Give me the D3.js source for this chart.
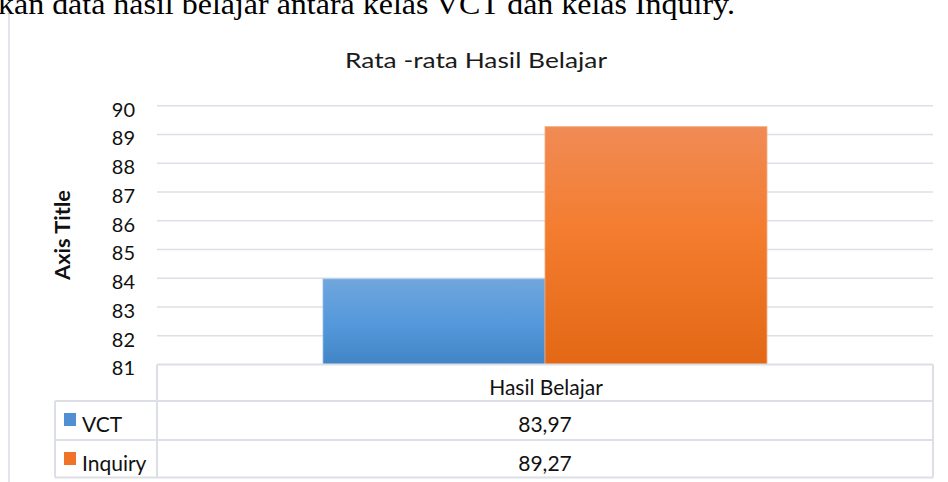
<!DOCTYPE html>
<html>
<head>
<meta charset="utf-8">
<script src="https://cdn.jsdelivr.net/npm/d3@7"></script>
<style>
  html, body { margin: 0; padding: 0; background: #fff; }
  svg { display: block; }
</style>
</head>
<body>
<svg id="chart" width="948" height="482"></svg>
<script>
// ---- data ----
const categories = ["Hasil Belajar"];
const seriesNames = ["VCT", "Inquiry"];
const vctValues = [83.97];
const inquiryValues = [89.27];
const valueLabels = [["83,97"], ["89,27"]];
const yTicks = [81, 82, 83, 84, 85, 86, 87, 88, 89, 90];
const chartTitle = "Rata -rata Hasil Belajar";
const axisTitle = "Axis Title";
const docText = "kan data hasil belajar antara kelas VCT dan kelas Inquiry.";

const seriesValues = [vctValues, inquiryValues];

const svg = d3.select("#chart");
const font = "Lato, 'Open Sans', sans-serif";
const gridColor = "#dcdfe5";

// gradients
const defs = svg.append("defs");
const grads = [
  { id: "gBlue", stops: [["0%", "#70a6dc"], ["50%", "#5699dc"], ["100%", "#4185c6"]] },
  { id: "gOrange", stops: [["0%", "#f08b55"], ["45%", "#f47c2e"], ["100%", "#e26815"]] }
];
grads.forEach(g => {
  const lg = defs.append("linearGradient").attr("id", g.id)
    .attr("x1", 0).attr("y1", 0).attr("x2", 0).attr("y2", 1);
  g.stops.forEach(s => lg.append("stop").attr("offset", s[0]).attr("stop-color", s[1]));
});
const legendColors = ["#4f8fd2", "#ef7428"];

// document text at top (cut off by the page edge, as in the source)
svg.append("text")
  .attr("x", -2).attr("y", 13.5)
  .attr("font-family", "'Liberation Serif', 'Times New Roman', serif")
  .attr("font-size", 29)
  .attr("textLength", 737)
  .attr("lengthAdjust", "spacingAndGlyphs")
  .attr("fill", "#000")
  .text(docText);

// left frame line
svg.append("line")
  .attr("x1", 9).attr("x2", 9).attr("y1", 13).attr("y2", 482)
  .attr("stroke", "#d9dde4").attr("stroke-width", 1.5);

// scales
const plotLeft = 157, plotRight = 933;
const y = d3.scaleLinear().domain([81, 90]).range([364.4, 105.7]);
const x0 = d3.scaleBand().domain(categories).range([plotLeft, plotRight]).padding(0);
const x1 = d3.scaleBand().domain(seriesNames).range([0, x0.bandwidth()])
  .paddingInner(0).paddingOuter(0.748);

// title
svg.append("text")
  .attr("x", 345).attr("y", 68.3)
  .attr("font-family", font).attr("font-size", 21)
  .attr("textLength", 262)
  .attr("lengthAdjust", "spacingAndGlyphs")
  .attr("fill", "#1a1a1a")
  .text(chartTitle);

// gridlines
svg.append("g").selectAll("line")
  .data(yTicks.filter(t => t > 81))
  .join("line")
  .attr("x1", plotLeft).attr("x2", plotRight)
  .attr("y1", d => y(d)).attr("y2", d => y(d))
  .attr("stroke", gridColor).attr("stroke-width", 1.5);

// y axis labels via d3 axis
const yAxis = svg.append("g")
  .attr("transform", `translate(${plotLeft - 22},4)`)
  .call(d3.axisLeft(y).tickValues(yTicks).tickSize(0).tickPadding(0).tickFormat(d3.format("d")));
yAxis.select(".domain").remove();
yAxis.selectAll("text")
  .attr("font-family", font).attr("font-size", 20)
  .attr("fill", "#111");

// axis title
svg.append("text")
  .attr("transform", "translate(70,235) rotate(-90)")
  .attr("text-anchor", "middle")
  .attr("font-family", font).attr("font-size", 20).attr("font-weight", "bold")
  .attr("textLength", 90)
  .attr("lengthAdjust", "spacingAndGlyphs")
  .attr("fill", "#111")
  .text(axisTitle);

// bars
const barData = [];
categories.forEach((c, ci) => {
  seriesNames.forEach((s, si) => {
    barData.push({ cat: c, series: s, value: seriesValues[si][ci], si });
  });
});
svg.append("g").selectAll("rect")
  .data(barData)
  .join("rect")
  .attr("x", d => x0(d.cat) + x1(d.series))
  .attr("width", x1.bandwidth())
  .attr("y", d => y(d.value))
  .attr("height", d => y(81) - y(d.value))
  .attr("fill", d => d.si === 0 ? "url(#gBlue)" : "url(#gOrange)")
  .attr("stroke", d => d.si === 0 ? "#8ab8e6" : "#f5a77a")
  .attr("stroke-width", 0.8);

// data table
const rowY = [364.4, 401, 440, 477.5];
const legLeft = 55;
const tg = svg.append("g").attr("stroke", gridColor).attr("stroke-width", 2).attr("fill", "none");
tg.append("line").attr("x1", plotLeft).attr("x2", plotRight).attr("y1", rowY[0]).attr("y2", rowY[0]);
[1, 2, 3].forEach(i => {
  tg.append("line").attr("x1", legLeft).attr("x2", plotRight).attr("y1", rowY[i]).attr("y2", rowY[i]);
});
tg.append("line").attr("x1", plotLeft).attr("x2", plotLeft).attr("y1", rowY[0]).attr("y2", rowY[3]);
tg.append("line").attr("x1", plotRight).attr("x2", plotRight).attr("y1", rowY[0]).attr("y2", rowY[3]);
tg.append("line").attr("x1", legLeft).attr("x2", legLeft).attr("y1", rowY[1]).attr("y2", rowY[3]);

// header text
svg.append("g").selectAll("text")
  .data(categories)
  .join("text")
  .attr("x", d => x0(d) + x0.bandwidth() / 2 + 1)
  .attr("y", 395.3)
  .attr("text-anchor", "middle")
  .attr("font-family", font).attr("font-size", 21)
  .attr("fill", "#111")
  .text(d => d);

// rows
seriesNames.forEach((s, si) => {
  const top = rowY[si + 1];
  svg.append("rect")
    .attr("x", 64).attr("y", top + 12).attr("width", 12).attr("height", 13)
    .attr("fill", legendColors[si]);
  svg.append("text")
    .attr("x", 82).attr("y", top + 30.5)
    .attr("font-family", font).attr("font-size", 21)
    .attr("fill", "#111")
    .text(s);
  categories.forEach((c, ci) => {
    svg.append("text")
      .attr("x", x0(c) + x0.bandwidth() / 2)
      .attr("y", top + 31)
      .attr("text-anchor", "middle")
      .attr("font-family", font).attr("font-size", 21)
      .attr("fill", "#111")
      .text(valueLabels[si][ci]);
  });
});
</script>
</body>
</html>
